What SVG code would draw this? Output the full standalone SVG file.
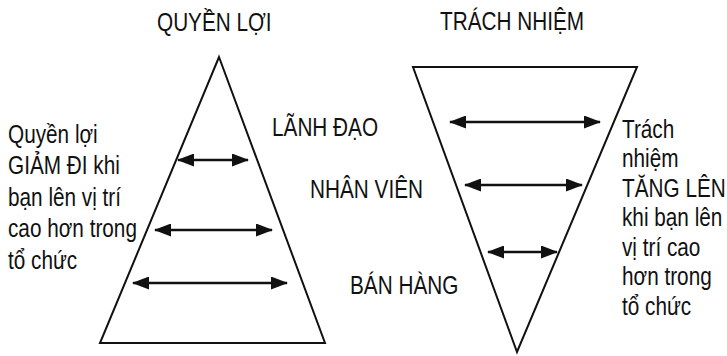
<svg xmlns="http://www.w3.org/2000/svg" width="727" height="356" viewBox="0 0 727 356">
  <defs>
    <style>
      .t { font-family: "Liberation Sans", Arial, sans-serif; font-size: 25px; fill: #111; }
      .shape { fill: none; stroke: #111; stroke-width: 2; stroke-linejoin: miter; }
      .arrow { stroke: #111; stroke-width: 2.5; marker-start: url(#head); marker-end: url(#head); }
    </style>
    <marker id="head" markerUnits="userSpaceOnUse" markerWidth="17" markerHeight="13" refX="16" refY="6.5" orient="auto-start-reverse">
      <path d="M0,0 L17,6.5 L0,13 z" fill="#111"/>
    </marker>
  </defs>
  <rect width="727" height="356" fill="#fff"/>

  <!-- Pyramid of benefits -->
  <g id="benefits">
    <text class="t" transform="translate(157 31) scale(0.83 1)">QUYỀN LỢI</text>
    <polygon class="shape" points="219,57 325,343 100,343"/>
  </g>

  <!-- Inverted pyramid of responsibility -->
  <g id="responsibility">
    <text class="t" transform="translate(440 30) scale(0.83 1)">TRÁCH NHIỆM</text>
    <polygon class="shape" points="413,67 637,67 517,352"/>
  </g>

  <!-- Level labels between the two shapes -->
  <g id="level-leader">
    <text class="t" transform="translate(272 136) scale(0.83 1)">LÃNH ĐẠO</text>
  </g>
  <g id="level-staff">
    <text class="t" transform="translate(310 198) scale(0.83 1)">NHÂN VIÊN</text>
  </g>
  <g id="level-sales">
    <text class="t" transform="translate(350 294) scale(0.83 1)">BÁN HÀNG</text>
  </g>

  <!-- Side notes -->
  <g id="note-benefits">
    <text class="t" transform="translate(8 143) scale(0.83 1)">
      <tspan x="0" y="0">Quyền lợi</tspan>
      <tspan x="0" y="31.5">GIẢM ĐI khi</tspan>
      <tspan x="0" y="63">bạn lên vị trí</tspan>
      <tspan x="0" y="94.5">cao hơn trong</tspan>
      <tspan x="0" y="126">tổ chức</tspan>
    </text>
  </g>
  <g id="note-responsibility">
    <text class="t" transform="translate(622 138) scale(0.83 1)">
      <tspan x="0" y="0">Trách</tspan>
      <tspan x="0" y="29.5">nhiệm</tspan>
      <tspan x="0" y="59">TĂNG LÊN</tspan>
      <tspan x="0" y="88.5">khi bạn lên</tspan>
      <tspan x="0" y="118">vị trí cao</tspan>
      <tspan x="0" y="147.5">hơn trong</tspan>
      <tspan x="0" y="177">tổ chức</tspan>
    </text>
  </g>

  <!-- Width arrows -->
  <g id="connectors">
    <line class="arrow" x1="178" y1="160" x2="248" y2="160"/>
    <line class="arrow" x1="155" y1="230" x2="272" y2="230"/>
    <line class="arrow" x1="133" y1="283" x2="287" y2="283"/>
    <line class="arrow" x1="450" y1="122" x2="600" y2="122"/>
    <line class="arrow" x1="465" y1="185" x2="582" y2="185"/>
    <line class="arrow" x1="488" y1="252" x2="557" y2="252"/>
  </g>
</svg>
